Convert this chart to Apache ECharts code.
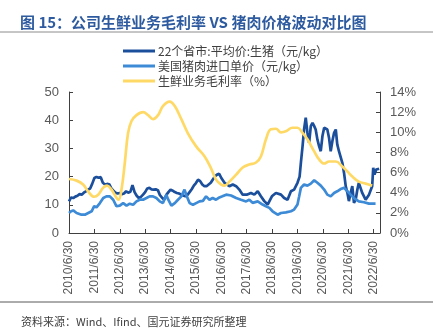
<!DOCTYPE html>
<html>
<head>
<meta charset="utf-8">
<script src="https://cdn.jsdelivr.net/npm/echarts@6/dist/echarts.min.js"></script>
<style>html,body{margin:0;padding:0;background:#fff}#c{width:433px;height:328px}</style>
</head>
<body>
<div id="c"></div>
<script>
// x values: months since 2010/6/30
var tickYears = ['2010','2011','2012','2013','2014','2015','2016','2017','2018','2019','2020','2021','2022'];
var seriesNames = ['22个省市:平均价:生猪（元/kg）','美国猪肉进口单价（元/kg）','生鲜业务毛利率（%）'];

var hogPrice = [[0,11.2],[1,12.6],[2,12.4],[3,12.9],[4,13.2],[5,13.8],[6,13.6],[7,14.3],[8,14.8],[9,15.4],[10,15.8],[11,17.5],[12,19.5],[13,19.9],[14,19.6],[15,19.8],[16,17.8],[17,17.2],[18,17.4],[19,17.3],[20,15.8],[21,15],[22,14.3],[23,14],[24,14.2],[25,13.8],[26,14],[27,14.8],[28,14.3],[29,14.6],[30,17],[31,14.5],[32,13.2],[33,12.4],[34,12.8],[35,13.6],[36,14.5],[37,15.8],[38,16],[39,15.5],[40,15.4],[41,15.5],[42,15.2],[43,13.4],[44,12.5],[45,11.8],[46,13.5],[47,14.5],[48,15.4],[49,15],[50,14.5],[51,14.2],[52,14],[53,13.6],[54,13.3],[55,13],[56,13.5],[57,14.5],[58,15.5],[59,16.8],[60,17.7],[61,18.9],[62,18.4],[63,17.2],[64,16.6],[65,16.6],[66,17.2],[67,17.8],[68,19],[69,20.1],[70,20.7],[71,21],[72,19.5],[73.5,17.8],[75.8,16.6],[77.4,17.2],[79,16.6],[80.5,15.4],[82.1,13.6],[84,13.6],[86,14.2],[87.6,13.6],[89.2,14.8],[90.7,13],[92.3,11.3],[93.9,10.1],[95.9,13],[97.8,14.2],[100.2,13.6],[101.7,12.4],[103.3,11.8],[104.9,14.8],[106.4,15.4],[108,17.8],[109,20],[109.6,24.9],[110.4,30.8],[111.1,36.7],[111.9,40.9],[112.7,35.5],[113.5,32],[114.3,37.9],[115.1,39.1],[115.9,37.9],[116.6,36.7],[117.4,33.2],[118.2,30.8],[119,29],[119.8,34.4],[120.6,37.3],[121.4,37.9],[122.1,36.7],[122.9,33.8],[123.7,29],[124.5,32.6],[125.3,35.5],[126.1,36.7],[126.8,31.4],[127.6,29],[128.4,28.4],[129.2,24.9],[130,21.3],[130.8,16.6],[131.6,14.2],[132.3,11.3],[133.1,14.2],[133.9,16.6],[134.7,10.7],[135.5,11.8],[136.3,15.4],[137,17.8],[137.8,16],[138.6,14.2],[139.4,13.6],[140.2,11.8],[141,12.4],[141.8,13.6],[142.5,14.2],[143.3,16.6],[143.8,23.1],[144.4,20.7],[145.2,22.5],[146,23.1],[146.6,22.8]];

var usPorkPrice = [[0,7.1],[1,7.7],[2,8],[3.6,7.1],[5.9,6.5],[7.5,6.5],[9.1,7.1],[10.7,7.7],[11.9,9.5],[13,9.1],[14.6,10.6],[16.2,12.4],[17.7,13],[19.3,13],[20.9,11.8],[22.4,9.5],[24,9.7],[25.6,10.6],[27.2,9.7],[28.7,10.4],[30.3,10],[31.9,11.2],[33.4,11.8],[35,11.8],[36.6,12.4],[38.1,13],[39.7,13],[41.3,12.4],[42.9,11.2],[44.4,10.6],[46,13.6],[46.8,12],[48.4,9.7],[50,10.6],[51.5,11.8],[53.1,13],[54.6,15.4],[55.4,13.6],[57,10.6],[58.6,10],[60.1,10.6],[61.7,11.2],[63.3,11.4],[64.8,13],[66.4,11.8],[67.9,12.4],[69.5,11.8],[71.1,12.6],[72.5,13],[74.3,13.6],[76.6,13.3],[79,12.4],[81.3,11.8],[83.7,11.2],[85.2,11.8],[86.8,10.7],[89.2,11.2],[91.5,10.1],[93.1,9.5],[94.7,8.9],[96.2,7.7],[98.6,6.5],[100.2,7.1],[102.5,7.3],[104.9,7.7],[106.4,8.3],[108,10.1],[108.8,13],[109.6,16],[111.1,17.2],[112.7,16.8],[114.3,17.5],[115.9,18.7],[117.4,17.8],[119,16.8],[120.6,15.4],[122.1,13.6],[123.7,13],[125.3,14.2],[126.8,14.8],[128.4,15.6],[130,16],[131.6,14.8],[133.1,13.6],[134.7,12.4],[137,11.2],[139.4,10.9],[141.8,10.4],[144.9,10.4]];

var freshMargin = [[0,5.36],[3.6,5.2],[6.8,4.8],[9.1,4.1],[11.9,3.6],[13.8,3.8],[16.2,4.5],[18,4.7],[20.1,4.3],[22.4,3.5],[23.4,3.3],[24.8,4.3],[26.4,7.0],[27.9,9.9],[29.5,11.1],[31.9,11.7],[35,12.0],[37.4,11.7],[39.7,11.3],[42.1,11.7],[44.4,12.6],[47.6,13.05],[50,12.6],[53.1,11.3],[56.2,9.9],[60.1,8.6],[64.1,7.6],[67.2,6.4],[69.5,5.3],[72,4.8],[73.5,4.7],[75.8,5.1],[79,5.8],[82.1,6.5],[85.2,6.8],[88.4,7.0],[90.7,7.6],[93.1,9.3],[95.4,10.3],[97.8,10.35],[100.2,10.0],[102.5,10.1],[105.6,10.45],[108,10.45],[110.4,9.95],[112.7,9.3],[115.9,8.1],[118.2,7.3],[120.6,6.9],[122.9,7.1],[126.1,7.1],[129.2,6.6],[131.6,6.1],[133.9,5.6],[137,5.1],[140.2,4.9],[143.3,4.7]];

var FONT = '"Liberation Sans", Arial, "Noto Sans CJK SC", sans-serif';
var chart = echarts.init(document.getElementById('c'), null, {renderer: 'canvas'});
chart.setOption({
  animation: false,
  backgroundColor: '#fff',
  textStyle: {fontFamily: FONT},
  title: [
    {text: '图 15：公司生鲜业务毛利率 VS 猪肉价格波动对比图', left: 15, top: 10,
     textStyle: {fontSize: 15, fontWeight: 'bold', color: '#2E5B9F', fontFamily: '"Noto Sans CJK SC", sans-serif'}},
    {text: '资料来源：Wind、Ifind、国元证券研究所整理', left: 16, top: 311,
     textStyle: {fontSize: 11, fontWeight: 'normal', color: '#404040', fontFamily: '"Noto Sans CJK SC", sans-serif'}}
  ],
  graphic: [
    {type: 'line', shape: {x1: 0, y1: 32, x2: 433, y2: 32}, style: {stroke: '#8c8c8c', lineWidth: 1}},
    {type: 'line', shape: {x1: 0, y1: 302, x2: 433, y2: 302}, style: {stroke: '#595959', lineWidth: 1}}
  ],
  legend: {
    orient: 'vertical', left: 118, top: 40, itemGap: 3, itemWidth: 32, itemHeight: 12,
    icon: 'path://M0,0 L32,0 L32,3 L0,3 Z',
    data: seriesNames,
    textStyle: {fontSize: 12, color: '#404040', fontFamily: '"Noto Sans CJK SC", sans-serif', padding: [0,0,0,-2]}
  },
  grid: {left: 69, right: 53, top: 92, bottom: 95, containLabel: false},
  xAxis: {
    type: 'value', min: 0, max: 147, interval: 12,
    axisLine: {show: true, lineStyle: {color: '#404040', width: 1}},
    axisTick: {show: true, inside: true, length: 4, lineStyle: {color: '#404040'}},
    splitLine: {show: false},
    axisLabel: {rotate: 90, fontSize: 12, color: '#595959', margin: 8, fontFamily: FONT,
      formatter: function (v) { return (v % 12 === 0) ? tickYears[v / 12] + '/6/30' : ''; }}
  },
  yAxis: [
    {type: 'value', min: 0, max: 50, interval: 10, position: 'left',
     axisLine: {show: true, lineStyle: {color: '#404040'}},
     axisTick: {show: true, inside: true, length: 4, lineStyle: {color: '#404040'}},
     splitLine: {show: false},
     axisLabel: {fontSize: 13, color: '#595959', margin: 10, fontFamily: FONT}},
    {type: 'value', min: 0, max: 14, interval: 2, position: 'right',
     axisLine: {show: true, lineStyle: {color: '#404040'}},
     axisTick: {show: true, inside: true, length: 4, lineStyle: {color: '#404040'}},
     splitLine: {show: false},
     axisLabel: {fontSize: 13, color: '#595959', margin: 10, formatter: '{value}%', fontFamily: FONT}}
  ],
  series: [
    {name: seriesNames[0], type: 'line', yAxisIndex: 0, data: hogPrice, symbol: 'none',
     lineStyle: {color: '#1B4F9C', width: 2.7}, itemStyle: {color: '#1B4F9C'}},
    {name: seriesNames[1], type: 'line', yAxisIndex: 0, data: usPorkPrice, symbol: 'none',
     lineStyle: {color: '#3D8AD6', width: 2.7}, itemStyle: {color: '#3D8AD6'}},
    {name: seriesNames[2], type: 'line', yAxisIndex: 1, data: freshMargin, symbol: 'none', smooth: 0.4,
     lineStyle: {color: '#FFD966', width: 2.7}, itemStyle: {color: '#FFD966'}}
  ]
});
</script>
</body>
</html>
